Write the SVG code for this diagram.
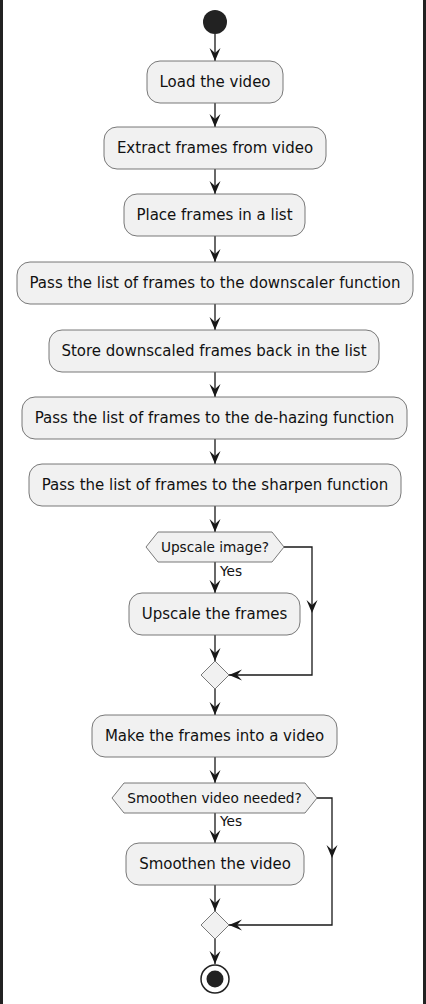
<svg xmlns="http://www.w3.org/2000/svg" xmlns:xlink="http://www.w3.org/1999/xlink" width="426" height="1004" viewBox="0 0 426 1004">
<style>
.box{fill:#F1F1F1;stroke:#6a6a6a;stroke-width:0.9}
.lbl{font-family:"DejaVu Sans",sans-serif;font-size:15px;fill:#111;text-anchor:middle}
.small{font-family:"DejaVu Sans",sans-serif;font-size:13.7px;fill:#111}
.edge{fill:none;stroke:#181818;stroke-width:1.3}
</style>
<defs>
<marker id="ah" markerUnits="userSpaceOnUse" markerWidth="15" markerHeight="13" viewBox="-14 -6.5 15 13" refX="0" refY="0" orient="auto">
<path d="M0,0 L-13,-5.5 L-8,0 L-13,5.5 Z" fill="#181818"/>
</marker>
<path id="hd" d="M0,0 L-13,-5.5 L-8,0 L-13,5.5 Z" fill="#181818"/>
</defs>
<rect x="0" y="0" width="426" height="1004" fill="#ffffff"/>
<rect x="0" y="0" width="3" height="1004" fill="#222"/>
<rect x="423" y="0" width="3" height="1004" fill="#222"/>

<g id="connectors">
<path class="edge" d="M215,34 V61" marker-end="url(#ah)"/>
<path class="edge" d="M215,103 V127" marker-end="url(#ah)"/>
<path class="edge" d="M215,169 V194" marker-end="url(#ah)"/>
<path class="edge" d="M215,236 V262" marker-end="url(#ah)"/>
<path class="edge" d="M215,304 V330" marker-end="url(#ah)"/>
<path class="edge" d="M215,372 V397" marker-end="url(#ah)"/>
<path class="edge" d="M215,439 V464" marker-end="url(#ah)"/>
<path class="edge" d="M215,506 V532" marker-end="url(#ah)"/>
<path class="edge" d="M215,562 V593" marker-end="url(#ah)"/>
<path class="edge" d="M215,635 V661" marker-end="url(#ah)"/>
<path class="edge" d="M284,547 H312 V675 H229" marker-end="url(#ah)"/>
<use xlink:href="#hd" href="#hd" transform="translate(312,613) rotate(90)"/>
<path class="edge" d="M215,689 V715" marker-end="url(#ah)"/>
<path class="edge" d="M215,757 V783" marker-end="url(#ah)"/>
<path class="edge" d="M215,813 V843" marker-end="url(#ah)"/>
<path class="edge" d="M215,885 V911" marker-end="url(#ah)"/>
<path class="edge" d="M317,798 H332 V925 H229" marker-end="url(#ah)"/>
<use xlink:href="#hd" href="#hd" transform="translate(332,858) rotate(90)"/>
<path class="edge" d="M215,939 V964" marker-end="url(#ah)"/>
<text class="small" x="220" y="576">Yes</text>
<text class="small" x="220" y="826">Yes</text>
</g>

<g id="start"><circle cx="215" cy="22" r="12" fill="#222"/></g>

<g id="load"><rect class="box" x="147" y="61" width="136" height="42" rx="13"/><text class="lbl" x="215" y="87">Load the video</text></g>
<g id="extract"><rect class="box" x="104" y="127" width="222" height="42" rx="13"/><text class="lbl" x="215" y="153">Extract frames from video</text></g>
<g id="place"><rect class="box" x="124" y="194" width="181" height="42" rx="13"/><text class="lbl" x="214.5" y="220">Place frames in a list</text></g>
<g id="downscale"><rect class="box" x="17" y="262" width="396" height="42" rx="13"/><text class="lbl" x="215" y="288">Pass the list of frames to the downscaler function</text></g>
<g id="store"><rect class="box" x="49" y="330" width="330" height="42" rx="13"/><text class="lbl" x="214" y="356">Store downscaled frames back in the list</text></g>
<g id="dehaze"><rect class="box" x="22" y="397" width="385" height="42" rx="13"/><text class="lbl" x="214.5" y="423">Pass the list of frames to the de-hazing function</text></g>
<g id="sharpen"><rect class="box" x="29" y="464" width="372" height="42" rx="13"/><text class="lbl" x="215" y="490">Pass the list of frames to the sharpen function</text></g>

<g id="upscale-q"><polygon class="box" points="158,532 272,532 284,547 272,562 158,562 146,547"/><text class="small" x="215" y="552" text-anchor="middle">Upscale image?</text></g>
<g id="upscale"><rect class="box" x="129" y="593" width="171" height="42" rx="13"/><text class="lbl" x="214.5" y="619">Upscale the frames</text></g>
<g id="merge1"><polygon class="box" points="215,661 229,675 215,689 201,675"/></g>

<g id="make"><rect class="box" x="92" y="715" width="245" height="42" rx="13"/><text class="lbl" x="214.5" y="741">Make the frames into a video</text></g>
<g id="smooth-q"><polygon class="box" points="124,783 305,783 317,798 305,813 124,813 112,798"/><text class="small" x="214.5" y="803" text-anchor="middle">Smoothen video needed?</text></g>
<g id="smooth"><rect class="box" x="126" y="843" width="178" height="42" rx="13"/><text class="lbl" x="215" y="869">Smoothen the video</text></g>
<g id="merge2"><polygon class="box" points="215,911 229,925 215,939 201,925"/></g>

<g id="stop"><circle cx="215" cy="979" r="14" fill="#fff" stroke="#222" stroke-width="1.5"/><circle cx="215" cy="979" r="8.5" fill="#222"/></g>
</svg>
